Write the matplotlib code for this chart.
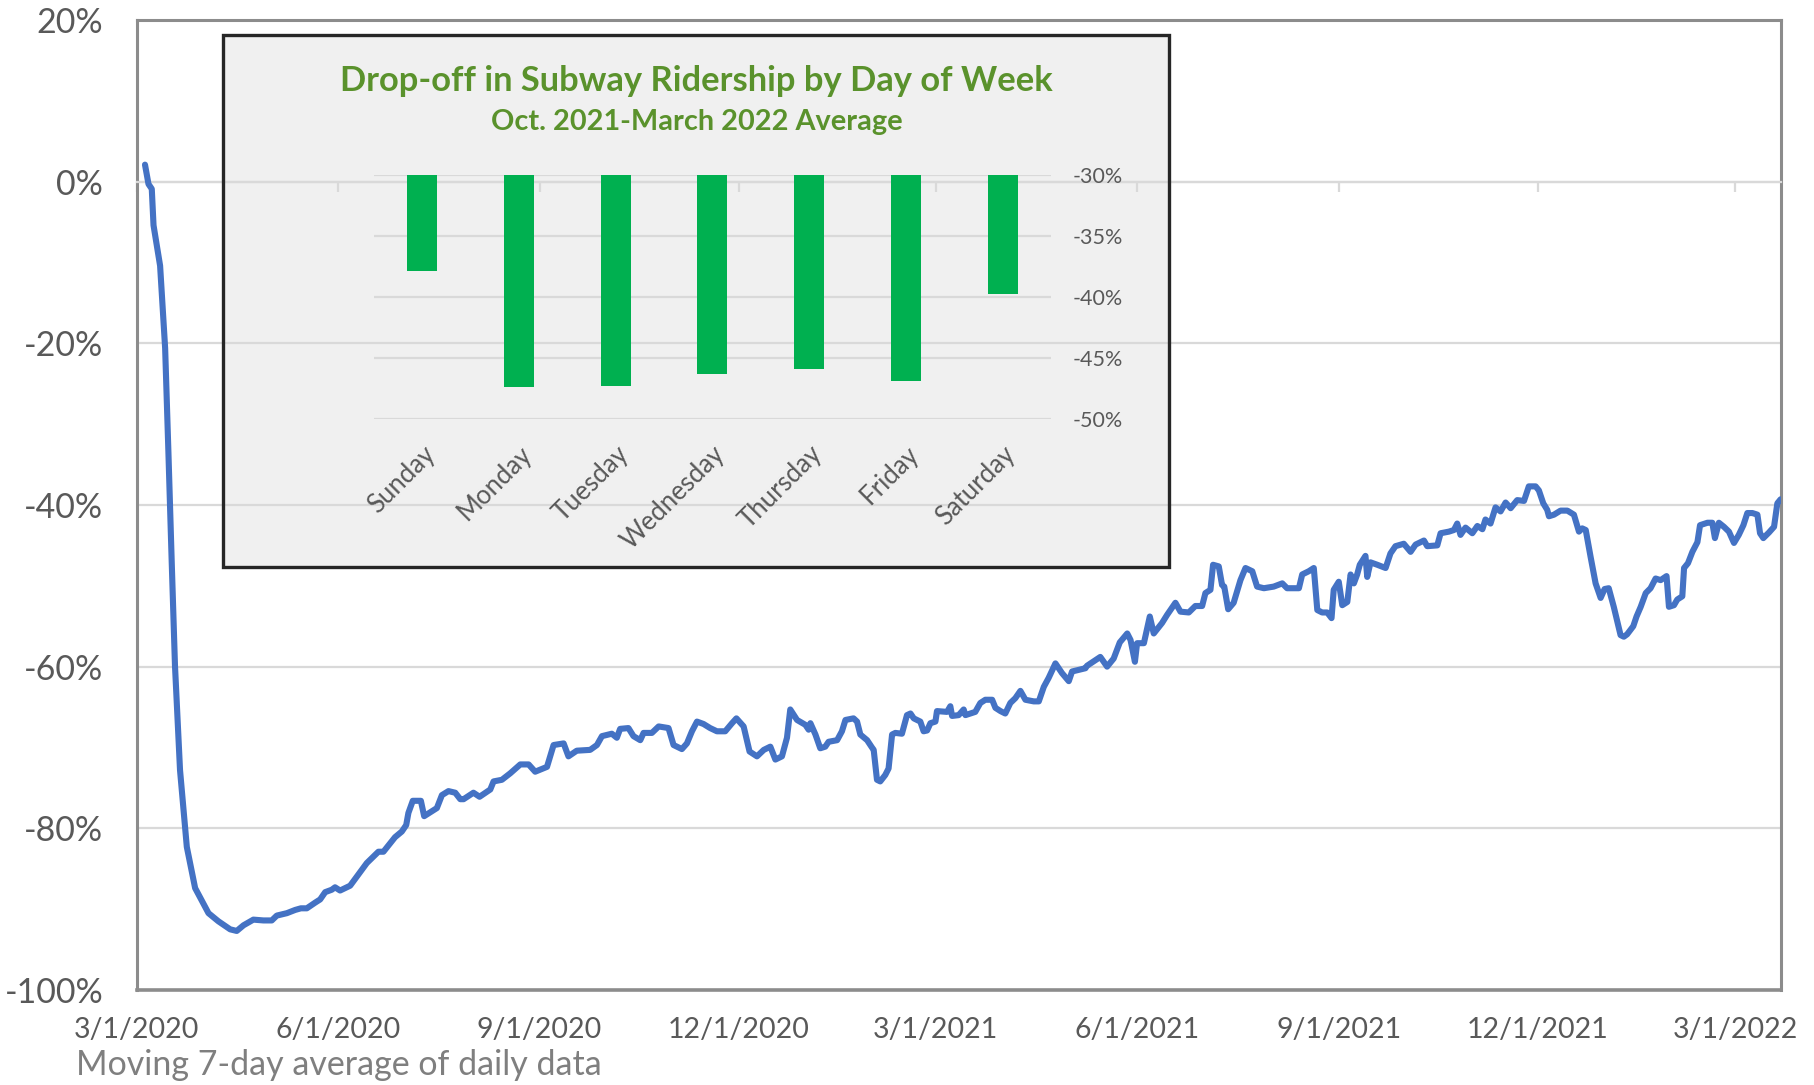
import numpy as np
import pandas as pd
import matplotlib
matplotlib.use('Agg')
import matplotlib.pyplot as plt
from matplotlib.patches import Rectangle
from matplotlib.transforms import blended_transform_factory

plt.rcParams['font.family'] = ['Lato', 'DejaVu Sans']

# ---------------- data ----------------
start_date = '2020-03-01'
day_offset = [
    3.8, 5.4, 6.9, 7.7, 10.7, 13.0, 14.5, 16.0, 17.5, 19.8, 22.9, 26.7, 32.8, 37.3, 42.7, 45.7,
    48.8, 53.3, 57.9, 61.7, 64.0, 68.6, 72.4, 75.0, 77.7, 81.5, 83.8, 86.1, 89.1, 90.6, 92.9,
    97.5, 101.3, 105.1, 110.4, 112.7, 118.0, 121.1, 123.1, 124.1, 126.1, 129.8, 131.3, 137.1,
    139.4, 142.4, 145.5, 147.8, 149.3, 153.8, 156.6, 161.5, 163.0, 166.8, 170.6, 175.2, 179.0,
    182.0, 187.4, 190.4, 195.0, 197.2, 201.0, 207.1, 210.2, 212.5, 217.0, 219.3, 220.8, 224.6,
    226.9, 230.0, 231.5, 235.3, 238.4, 242.9, 245.2, 249.0, 251.3, 253.6, 255.9, 258.9, 261.9,
    265.0, 268.8, 271.9, 273.9, 277.2, 279.9, 283.3, 286.4, 289.4, 291.7, 294.7, 297.0, 298.5,
    301.6, 305.4, 306.9, 307.7, 310.0, 312.2, 314.5, 316.0, 319.9, 322.1, 323.7, 327.4, 329.0,
    330.5, 333.6, 335.8, 336.6, 338.1, 339.6, 341.9, 343.4, 345.0, 346.5, 349.5, 351.8, 353.4,
    354.9, 357.9, 359.4, 361.0, 362.5, 364.8, 365.5, 370.1, 371.6, 372.4, 375.4, 377.7, 378.5,
    383.0, 385.3, 387.6, 390.7, 392.2, 394.5, 396.7, 399.0, 401.3, 403.6, 405.9, 409.7, 412.0,
    414.3, 416.5, 419.6, 422.6, 425.7, 427.2, 430.2, 433.3, 434.0, 437.9, 440.1, 443.2, 446.2,
    449.0, 452.4, 453.9, 455.9, 456.9, 460.0, 462.7, 464.5, 468.3, 470.6, 474.4, 476.7, 480.5,
    483.5, 486.6, 488.1, 490.4, 491.6, 494.2, 495.7, 496.7, 498.5, 501.0, 504.1, 506.4, 509.5,
    511.7, 514.8, 519.3, 523.2, 525.4, 530.8, 532.3, 535.3, 537.6, 539.2, 541.4, 543.7, 545.7,
    546.7, 549.0, 550.6, 552.9, 554.4, 555.9, 557.4, 558.6, 561.2, 562.0, 563.5, 566.6, 570.4,
    572.6, 574.9, 578.7, 581.8, 584.1, 587.9, 589.4, 594.0, 595.5, 599.3, 601.6, 603.1, 604.6,
    606.9, 610.0, 612.3, 614.6, 616.0, 618.3, 620.6, 622.9, 625.2, 627.5, 630.5, 633.6, 635.8,
    638.9, 640.4, 642.4, 644.2, 645.0, 647.3, 650.3, 653.4, 656.4, 658.7, 660.2, 661.8, 664.0,
    666.3, 668.6, 670.4, 672.3, 674.6, 677.7, 679.2, 680.7, 683.5, 685.0, 686.9, 689.2, 691.4,
    693.7, 696.0, 698.7, 699.8, 702.1, 703.6, 705.9, 706.7, 708.5, 710.5, 712.8, 714.0, 717.4,
    719.6, 720.8, 722.6, 724.9, 727.2, 729.5, 731.7, 733.8, 735.6, 737.9, 740.2, 741.4, 742.9,
    745.5, 747.8, 749.3, 750.8,
]
ridership_change = [
    2.1, -0.3, -0.9, -5.4, -10.4, -20.6, -33.5, -47.0, -59.9, -72.8, -82.3, -87.4, -90.5, -91.5, -92.5, -92.7,
    -92.0, -91.3, -91.4, -91.4, -90.8, -90.5, -90.1, -89.9, -89.9, -89.2, -88.8, -87.9, -87.6, -87.3, -87.7,
    -87.1, -85.7, -84.3, -82.9, -82.9, -81.1, -80.4, -79.6, -78.1, -76.6, -76.6, -78.5, -77.5,
    -75.9, -75.4, -75.6, -76.4, -76.4, -75.6, -76.1, -75.2, -74.2, -74.0, -73.2, -72.1, -72.1,
    -73.0, -72.4, -69.7, -69.5, -71.1, -70.4, -70.3, -69.7, -68.6, -68.3, -68.8, -67.7, -67.6,
    -68.6, -69.1, -68.2, -68.2, -67.4, -67.6, -69.7, -70.2, -69.5, -68.0, -66.8, -67.1, -67.6,
    -68.0, -68.0, -67.0, -66.4, -67.4, -70.5, -71.1, -70.3, -69.9, -71.5, -71.1, -68.8, -65.3,
    -66.6, -67.2, -67.8, -67.0, -68.4, -70.1, -69.9, -69.3, -69.1, -68.0, -66.6, -66.4, -66.8,
    -68.4, -69.1, -70.0, -70.3, -74.0, -74.2, -73.4, -72.6, -68.4, -68.2, -68.3, -66.0, -65.8,
    -66.4, -66.8, -68.0, -67.9, -67.0, -66.8, -65.5, -65.6, -64.9, -66.1, -66.0, -65.3, -66.0,
    -65.6, -64.5, -64.1, -64.1, -65.1, -65.5, -65.8, -64.5, -63.9, -63.0, -64.1, -64.3, -64.3,
    -62.5, -61.4, -59.6, -60.8, -61.8, -60.6, -60.4, -60.2, -59.9, -59.2, -58.8, -60.0, -59.0,
    -57.0, -55.9, -56.7, -59.4, -57.1, -57.1, -53.8, -55.9, -54.6, -53.6, -52.1, -53.2, -53.3,
    -52.5, -52.5, -50.9, -50.5, -47.4, -47.6, -49.9, -50.1, -52.9, -52.1, -49.3, -47.8, -48.2,
    -50.1, -50.3, -50.1, -49.7, -50.3, -50.3, -48.6, -48.2, -47.8, -53.0, -53.3, -53.3, -54.0,
    -50.5, -49.5, -52.4, -52.0, -48.6, -49.7, -48.6, -47.4, -46.3, -48.9, -47.1, -47.4, -47.8,
    -46.0, -45.1, -44.8, -45.8, -44.9, -44.4, -45.1, -45.0, -43.5, -43.3, -43.1, -42.3, -43.7,
    -42.8, -43.5, -42.6, -43.0, -41.8, -42.3, -40.3, -40.8, -39.7, -40.4, -39.4, -39.5, -37.7,
    -37.7, -38.2, -39.8, -40.6, -41.4, -41.2, -40.7, -40.7, -41.2, -43.3, -42.9, -43.1, -46.4,
    -49.7, -51.5, -50.4, -50.3, -52.6, -56.1, -56.3, -56.0, -55.0, -53.8, -52.6, -50.9, -50.3,
    -49.1, -49.3, -48.8, -52.6, -52.4, -51.7, -51.3, -47.8, -47.2, -45.8, -44.6, -42.5, -42.2,
    -42.2, -44.1, -42.2, -42.7, -43.3, -44.7, -43.7, -42.5, -41.0, -41.0, -41.2, -43.5, -44.1,
    -43.4, -42.7, -39.8, -39.3,
]
x_tick_dates = ['2020-03-01', '2020-06-01', '2020-09-01', '2020-12-01', '2021-03-01',
                '2021-06-01', '2021-09-01', '2021-12-01', '2022-03-01']
x_tick_labels = ['3/1/2020', '6/1/2020', '9/1/2020', '12/1/2020', '3/1/2021',
                 '6/1/2021', '9/1/2021', '12/1/2021', '3/1/2022']
x_end_date = '2022-03-22'
y_ticks = [20, 0, -20, -40, -60, -80, -100]

days_of_week = ['Sunday', 'Monday', 'Tuesday', 'Wednesday', 'Thursday', 'Friday', 'Saturday']
dropoff = [-37.9, -47.4, -47.3, -46.3, -45.9, -46.9, -39.8]
inset_ticks = [-30, -35, -40, -45, -50]

inset_title = 'Drop-off in Subway Ridership by Day of Week'
inset_subtitle = 'Oct. 2021-March 2022 Average'
caption = 'Moving 7-day average of daily data'

# ---------------- figure ----------------
TICK_GRAY = '#595959'
GRID = '#D9D9D9'
FRAME = '#8C8C8C'
GREEN_TXT = '#5A922C'

fig = plt.figure(figsize=(18.15, 10.85), dpi=100)
ax = fig.add_axes([0.0753, 0.0876, 0.906, 0.894])

dates = pd.to_datetime(start_date) + pd.to_timedelta(day_offset, unit='D')
ax.plot(dates, ridership_change, color='#4472C4', lw=4.4, solid_joinstyle='round',
        solid_capstyle='round', zorder=4)

ax.set_ylim(-100, 20)
ax.set_xlim(pd.Timestamp(start_date), pd.Timestamp(x_end_date))
ax.set_yticks(y_ticks)
ax.set_yticklabels([f'{v}%' for v in y_ticks])
ax.grid(axis='y', color=GRID, lw=1.6)
ax.set_axisbelow(True)
ax.tick_params(axis='y', length=0, pad=24, labelsize=24.5, labelcolor=TICK_GRAY)

tick_dates = pd.to_datetime(x_tick_dates)
ax.set_xticks(tick_dates)
ax.spines['bottom'].set_position(('data', 0))
ax.spines['bottom'].set_color(GRID)
ax.spines['bottom'].set_linewidth(1.6)
ax.tick_params(axis='x', direction='out', length=7, width=1.6, color=GRID, labelbottom=False)
for s in ['left', 'top', 'right']:
    ax.spines[s].set_color(FRAME)
    ax.spines[s].set_linewidth(2.2)
ax.plot([0, 1], [0, 0], transform=ax.transAxes, color=FRAME, lw=2.6, clip_on=False, zorder=5)

trans = blended_transform_factory(ax.transData, ax.transAxes)
for d, lab in zip(tick_dates, x_tick_labels):
    ax.text(d, -0.028, lab, transform=trans, ha='center', va='top', fontsize=20.5, color=TICK_GRAY)

fig.text(0.0421, 0.0184, caption, ha='left', va='center', fontsize=24.5, color='#7F7F7F')

# inset background + border
box = (0.1231, 0.4774, 0.521, 0.4906)
ax.add_patch(Rectangle(box[:2], box[2], box[3], transform=fig.transFigure,
                       facecolor='#F0F0F0', edgecolor='none', zorder=0.2))
ax.add_patch(Rectangle(box[:2], box[2], box[3], transform=fig.transFigure,
                       facecolor='none', edgecolor='#262626', lw=2.4, zorder=6, clip_on=False))

# inset bar chart
iax = fig.add_axes([0.206, 0.6138, 0.373, 0.2251])
iax.set_facecolor('none')
top = inset_ticks[0]
xpos = np.arange(len(days_of_week))
iax.bar(xpos, np.array(dropoff) - top, bottom=top, width=0.31, color='#00B050', zorder=3)
iax.set_ylim(inset_ticks[-1], inset_ticks[0])
iax.set_xlim(-0.5, len(days_of_week) - 0.5)
iax.set_yticks(inset_ticks)
iax.set_yticklabels([f'{v}%' for v in inset_ticks])
iax.yaxis.tick_right()
iax.tick_params(axis='y', length=0, pad=16, labelsize=15.5, labelcolor=TICK_GRAY)
iax.grid(axis='y', color=GRID, lw=1.6)
iax.set_axisbelow(True)
for s in iax.spines.values():
    s.set_visible(False)
iax.set_xticks(xpos)
iax.set_xticklabels(days_of_week, rotation=45, ha='right', rotation_mode='anchor',
                    fontsize=18.5, color=TICK_GRAY)
iax.tick_params(axis='x', length=0, pad=16)

fig.text(0.3836, 0.9253, inset_title, ha='center', va='center', fontsize=24.8,
         fontweight='bold', color=GREEN_TXT)
fig.text(0.384, 0.888, inset_subtitle, ha='center', va='center', fontsize=20.8,
         fontweight='bold', color=GREEN_TXT)

fig.savefig('out.png', dpi=100)
